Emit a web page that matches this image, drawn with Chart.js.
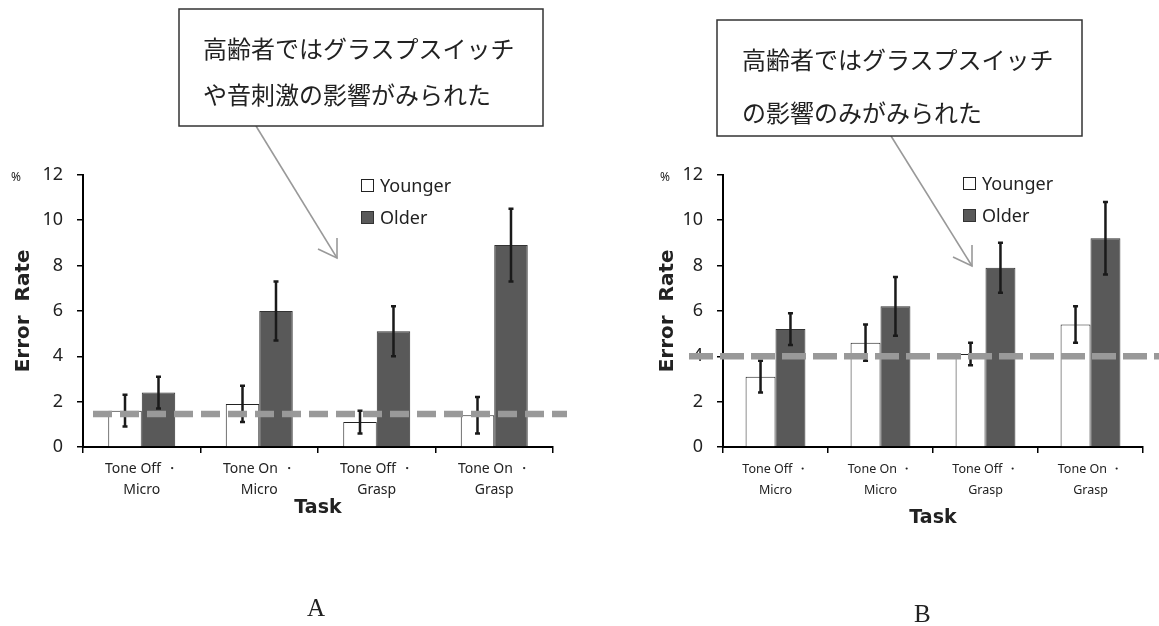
<!DOCTYPE html>
<html lang="ja">

<head>
   <meta charset="UTF-8">
   <title>Error Rate by Task</title>
   <style>
      body {
         margin: 0;
         background: #fff;
      }

      #wrap {
         position: relative;
         width: 1159px;
         height: 626px;
         overflow: hidden;
         font-family: "Noto Sans", sans-serif;
         color: #222;
      }

      canvas,
      svg,
      .txt {
         position: absolute;
      }

      .key {
         position: absolute;
         font-size: 18px;
         line-height: 20px;
         display: flex;
         align-items: center;
      }

      .key i {
         display: inline-block;
         width: 11px;
         height: 11px;
         margin-right: 6px;
         border: 1px solid #222;
      }

      .pct {
         font-size: 12px;
      }

      .panel {
         font-family: "Liberation Serif", serif;
         font-size: 25px;
      }
   </style>
</head>

<body>
   <div id="wrap">
      <canvas id="chartA" width="580" height="400" style="left:0;top:150px"></canvas>
      <canvas id="chartB" width="519" height="400" style="left:640px;top:150px"></canvas>

      <svg width="1159" height="626" style="left:0;top:0">
         <g fill="none" stroke="#999" stroke-width="1.6">
            <line x1="256" y1="126" x2="337" y2="258" />
            <polyline points="318,249 337,258 337,238" />
            <line x1="891" y1="136" x2="972" y2="266" />
            <polyline points="953,257 972,266 972,245" />
         </g>
         <g fill="#fff" stroke="#333" stroke-width="1.5">
            <rect x="179" y="9" width="364" height="117" />
            <rect x="717" y="20" width="365" height="116" />
         </g>
         <g font-family="Noto Sans CJK JP" font-size="24" fill="#222" dominant-baseline="central">
            <text x="203" y="47">高齢者ではグラスプスイッチ</text>
            <text x="203" y="93">や音刺激の影響がみられた</text>
            <text x="742" y="58">高齢者ではグラスプスイッチ</text>
            <text x="742" y="111">の影響のみがみられた</text>
         </g>
      </svg>

      <div class="txt pct" style="left:11px;top:168px">%</div>
      <div class="txt pct" style="left:660px;top:168px">%</div>

      <div class="key" style="left:361px;top:175px"><i style="background:#fff"></i>Younger</div>
      <div class="key" style="left:361px;top:207px"><i style="background:#595959;border-color:#333"></i>Older</div>
      <div class="key" style="left:963px;top:173px"><i style="background:#fff"></i>Younger</div>
      <div class="key" style="left:963px;top:205px"><i style="background:#595959;border-color:#333"></i>Older</div>

      <div class="txt panel" style="left:307px;top:594px">A</div>
      <div class="txt panel" style="left:914px;top:600px">B</div>
   </div>

   <script src="https://cdn.jsdelivr.net/npm/chart.js"></script>
   <script>
      // task categories (two-line tick labels)
      const categories = [
         ['Tone Off ・', 'Micro'],
         ['Tone On ・', 'Micro'],
         ['Tone Off ・', 'Grasp'],
         ['Tone On ・', 'Grasp']
      ];
      const yTicks = [0, 2, 4, 6, 8, 10, 12];

      // panel A
      const youngerA = [1.6, 1.9, 1.1, 1.4];
      const youngerErrA = [0.7, 0.8, 0.5, 0.8];
      const olderA = [2.4, 6.0, 5.1, 8.9];
      const olderErrA = [0.7, 1.3, 1.1, 1.6];
      const refLineA = 1.45;

      // panel B
      const youngerB = [3.1, 4.6, 4.1, 5.4];
      const youngerErrB = [0.7, 0.8, 0.5, 0.8];
      const olderB = [5.2, 6.2, 7.9, 9.2];
      const olderErrB = [0.7, 1.3, 1.1, 1.6];
      const refLineB = 4.0;

      const errorBars = {
         id: 'errorBars',
         afterDatasetsDraw(chart) {
            const ctx = chart.ctx;
            const y = chart.scales.y;
            ctx.save();
            ctx.strokeStyle = '#1a1a1a';
            ctx.lineWidth = 2.5;
            chart.data.datasets.forEach((ds, i) => {
               chart.getDatasetMeta(i).data.forEach((bar, j) => {
                  const top = y.getPixelForValue(ds.data[j] + ds.errors[j]);
                  const bot = y.getPixelForValue(ds.data[j] - ds.errors[j]);
                  ctx.beginPath();
                  ctx.moveTo(bar.x, top);
                  ctx.lineTo(bar.x, bot);
                  ctx.moveTo(bar.x - 2.5, top);
                  ctx.lineTo(bar.x + 2.5, top);
                  ctx.moveTo(bar.x - 2.5, bot);
                  ctx.lineTo(bar.x + 2.5, bot);
                  ctx.stroke();
               });
            });
            ctx.restore();
         }
      };

      // thick grey dashed reference line, runs past the plot area
      const refLine = {
         id: 'refLine',
         afterDraw(chart, args, opts) {
            const { ctx, chartArea } = chart;
            const py = chart.scales.y.getPixelForValue(opts.value);
            ctx.save();
            ctx.strokeStyle = '#999';
            ctx.lineWidth = opts.width;
            ctx.setLineDash(opts.dash);
            ctx.beginPath();
            ctx.moveTo(chartArea.left + opts.from, py);
            ctx.lineTo(chartArea.right + opts.to, py);
            ctx.stroke();
            ctx.restore();
         }
      };

      function makeChart(id, younger, youngerErr, older, olderErr, ref, cfg) {
         return new Chart(document.getElementById(id), {
            type: 'bar',
            data: {
               labels: categories,
               datasets: [{
                  label: 'Younger',
                  data: younger,
                  errors: youngerErr,
                  backgroundColor: '#fff',
                  borderColor: '#222',
                  borderWidth: 1,
                  borderSkipped: 'bottom'
               }, {
                  label: 'Older',
                  data: older,
                  errors: olderErr,
                  backgroundColor: '#595959',
                  borderColor: '#333',
                  borderWidth: 1,
                  borderSkipped: 'bottom'
               }]
            },
            options: {
               responsive: false,
               animation: false,
               events: [],
               categoryPercentage: 0.57,
               barPercentage: 1.0,
               layout: {
                  padding: { top: 22, left: 0, right: cfg.padRight, bottom: 103 - cfg.xHeight }
               },
               scales: {
                  x: {
                     grid: { offset: true, drawOnChartArea: false, tickLength: 6, color: '#000', lineWidth: 1.5 },
                     border: { color: '#000', width: 2 },
                     ticks: {
                        font: { family: 'Noto Sans', size: cfg.tickSize, lineHeight: 21 / cfg.tickSize },
                        color: '#222',
                        padding: 6,
                        maxRotation: 0,
                        autoSkip: false
                     },
                     title: {
                        display: true,
                        text: 'Task',
                        color: '#222',
                        font: { family: 'DejaVu Sans', weight: 'bold', size: 19 },
                        padding: { top: 4, bottom: 4 }
                     },
                     afterFit: s => { s.height = cfg.xHeight; }
                  },
                  y: {
                     min: 0,
                     max: 12,
                     afterBuildTicks: s => { s.ticks = yTicks.map(v => ({ value: v })); },
                     grid: { drawOnChartArea: false, tickLength: 6, color: '#000', lineWidth: 1.5 },
                     border: { color: '#000', width: 2 },
                     ticks: {
                        font: { family: 'Noto Sans', size: 18 },
                        color: '#222',
                        padding: 14
                     },
                     title: {
                        display: true,
                        text: 'Error  Rate',
                        color: '#222',
                        font: { family: 'DejaVu Sans', weight: 'bold', size: 20 },
                        padding: { top: cfg.titlePad, bottom: 0 }
                     },
                     afterFit: s => { s.width = 83; }
                  }
               },
               plugins: {
                  legend: { display: false },
                  tooltip: { enabled: false },
                  refLine: { value: ref, from: cfg.lineFrom, to: cfg.lineTo, width: 6.5, dash: cfg.dash }
               }
            },
            plugins: [errorBars, refLine]
         });
      }

      makeChart('chartA', youngerA, youngerErrA, olderA, olderErrA, refLineA,
         { padRight: 27, xHeight: 76, titlePad: 12, tickSize: 14, lineFrom: 10, lineTo: 14, dash: [19, 8] });
      makeChart('chartB', youngerB, youngerErrB, olderB, olderErrB, refLineB,
         { padRight: 16, xHeight: 86, titlePad: 16, tickSize: 12.5, lineFrom: -34, lineTo: 20, dash: [24, 7] });
   </script>
</body>

</html>
